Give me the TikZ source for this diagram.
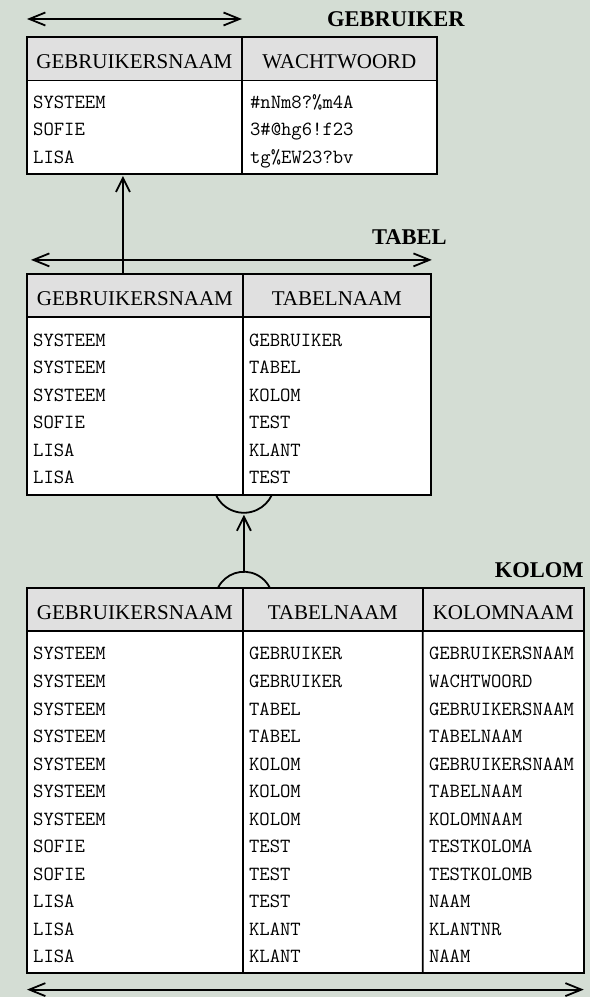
\documentclass[tikz,border=0pt]{standalone}
\usepackage{fontspec}
\setmainfont{Liberation Serif}
\usepackage{xcolor}
\usetikzlibrary{
    arrows.meta,
    positioning
}
\definecolor{achtergrond}{RGB}{212,221,212}
\definecolor{kopgrijs}{RGB}{224,224,224}
\newcommand{\kopfont}{\fontsize{21}{24}\selectfont}
\newcommand{\datafont}{\ttfamily\fontsize{20.1}{27.55}\selectfont}
\newcommand{\titelfont}{\bfseries\fontsize{22.5}{26}\selectfont}
\tikzset{
    tabel/.style={draw, fill=white, line width=1.8pt, inner sep=0pt, outer sep=0pt, anchor=north west},
    kop/.style={tabel, fill=kopgrijs, minimum height=43.5pt, text height=20pt, text depth=0pt, font=\kopfont},
    waarde/.style={anchor=north west, inner sep=0pt, align=left, font=\datafont},
    titel/.style={anchor=base east, inner sep=0pt, font=\titelfont},
    pijl/.style={line width=1.8pt, -{Straight Barb[length=14pt, width=14pt]}},
    sleutel/.style={line width=1.8pt, {Straight Barb[length=16pt, width=13pt]}-{Straight Barb[length=16pt, width=13pt]}}
}

\begin{document}
\begin{tikzpicture}[x=1pt, y=-1pt]
            \fill[achtergrond] (0, 0) rectangle (590, 997);
            \node[tabel, minimum width=410pt, minimum height=137pt] (gebruiker) at (27, 37) {};
            \node[kop, minimum width=215pt] (g-kop1) at (27, 37) {GEBRUIKERSNAAM};
            \node[kop, minimum width=195pt] (g-kop2) at (242, 37) {WACHTWOORD};
            \node[waarde] (g-naam) at (33, 88.7) {\strut SYSTEEM\\SOFIE\\LISA};
            \node[waarde] (g-wacht) at (250, 88.7) {\strut\#nNm8?\%m4A\\3\#@hg6!f23\\tg\%EW23?bv};
            \node[titel] (g-titel) at (465, 27) {GEBRUIKER};
            \node[tabel, minimum width=404pt, minimum height=221pt] (tabel) at (27, 274) {};
            \node[kop, minimum width=216pt] (t-kop1) at (27, 274) {GEBRUIKERSNAAM};
            \node[kop, minimum width=188pt] (t-kop2) at (243, 274) {TABELNAAM};
            \node[waarde] (t-naam) at (33, 326.7) {\strut SYSTEEM\\SYSTEEM\\SYSTEEM\\SOFIE\\LISA\\LISA};
            \node[waarde] (t-tabel) at (249, 326.7) {\strut GEBRUIKER\\TABEL\\KOLOM\\TEST\\KLANT\\TEST};
            \node[titel] (t-titel) at (447, 245) {TABEL};
            \node[tabel, minimum width=557pt, minimum height=385pt] (kolom) at (27, 588) {};
            \node[kop, minimum width=216pt] (k-kop1) at (27, 588) {GEBRUIKERSNAAM};
            \node[kop, minimum width=180pt] (k-kop2) at (243, 588) {TABELNAAM};
            \node[kop, minimum width=161pt] (k-kop3) at (423, 588) {KOLOMNAAM};
            \node[waarde] (k-naam) at (33, 640.7) {\strut SYSTEEM\\SYSTEEM\\SYSTEEM\\SYSTEEM\\SYSTEEM\\SYSTEEM\\SYSTEEM\\SOFIE\\SOFIE\\LISA\\LISA\\LISA};
            \node[waarde] (k-tabel) at (249, 640.7) {\strut GEBRUIKER\\GEBRUIKER\\TABEL\\TABEL\\KOLOM\\KOLOM\\KOLOM\\TEST\\TEST\\TEST\\KLANT\\KLANT};
            \node[waarde] (k-kolom) at (429, 640.7) {\strut GEBRUIKERSNAAM\\WACHTWOORD\\GEBRUIKERSNAAM\\TABELNAAM\\GEBRUIKERSNAAM\\TABELNAAM\\KOLOMNAAM\\TESTKOLOMA\\TESTKOLOMB\\NAAM\\KLANTNR\\NAAM};
            \node[titel] (k-titel) at (584, 578) {KOLOM};
            \coordinate (t-fk) at (123, 274);
            \coordinate (t-boog) at (244, 515);
            \coordinate (k-boog) at (244, 572);
            \draw[line width=1.8pt]
            (g-kop1.south east) -- (g-kop1.south east |- gebruiker.south)
            (t-kop1.south east) -- (t-kop1.south east |- tabel.south)
            (k-kop1.south east) -- (k-kop1.south east |- kolom.south)
            (k-kop2.south east) -- (k-kop2.south east |- kolom.south)
            (216.1, 495.2) arc[start angle=205, end angle=335, radius=30.8pt]
            (218.1, 588) arc[start angle=153.4, end angle=26.6, radius=29pt];
            \draw
            ([yshift=18pt]gebruiker.north west) edge[sleutel] ([yshift=18pt]g-kop1.north east)
            ([shift={(4pt,14pt)}]tabel.north west) edge[sleutel] ([shift={(1pt,14pt)}]tabel.north east)
            ([yshift=-17pt]kolom.south west) edge[sleutel] ([yshift=-17pt]kolom.south east)
            (t-fk) edge[pijl] ([yshift=-2pt]gebruiker.south -| t-fk)
            (k-boog) edge[pijl] (t-boog);
\end{tikzpicture}
\end{document}
